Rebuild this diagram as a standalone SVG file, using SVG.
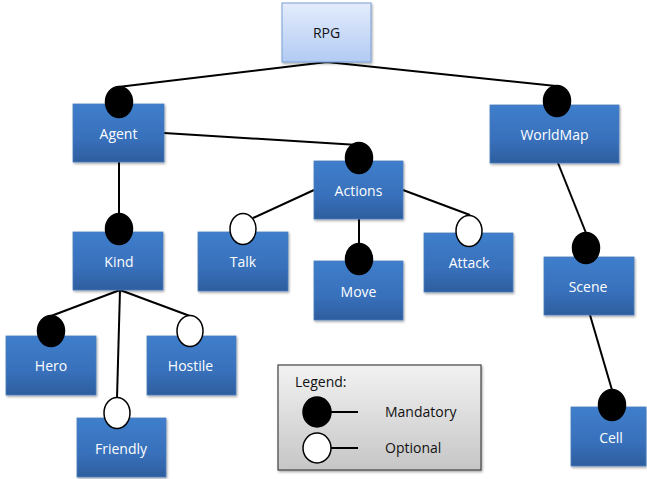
<svg xmlns="http://www.w3.org/2000/svg" width="647" height="479" viewBox="0 0 647 479">
<defs>
<linearGradient id="blue" x1="0" y1="0" x2="0" y2="1">
<stop offset="0" stop-color="#3f7ecb"/>
<stop offset="0.6" stop-color="#3870bb"/>
<stop offset="1" stop-color="#2d5e9e"/>
</linearGradient>
<linearGradient id="light" x1="0" y1="0" x2="0" y2="1">
<stop offset="0" stop-color="#e3ecfc"/>
<stop offset="1" stop-color="#b2cbf3"/>
</linearGradient>
<linearGradient id="gray" x1="0" y1="0" x2="0" y2="1">
<stop offset="0" stop-color="#f2f2f2"/>
<stop offset="1" stop-color="#c6c6c6"/>
</linearGradient>
<filter id="sh" x="-10%" y="-10%" width="130%" height="130%">
<feDropShadow dx="1" dy="1.5" stdDeviation="1" flood-color="#000" flood-opacity="0.35"/>
</filter>
</defs>
<style>
.box{fill:url(#blue);stroke:#4a7ebf;stroke-width:0.8;filter:url(#sh)}
.root{fill:url(#light);stroke:#7a9fd6;stroke-width:1;filter:url(#sh)}
.lbl{font-family:"Open Sans","Liberation Sans",sans-serif;font-size:14px;fill:#fff;text-anchor:middle}
.dark{fill:#111}
.ln{stroke:#000;stroke-width:2;fill:none}
.m{fill:#000;stroke:#000;stroke-width:1.5}
.o{fill:#fff;stroke:#000;stroke-width:1.5}
.lg{font-family:"Open Sans","Liberation Sans",sans-serif;font-size:14px;fill:#111}
</style>
<g id="connectors">
<polyline class="ln" points="118,87 327,62 556,86"/>
<line class="ln" x1="164" y1="133" x2="358" y2="145"/>
<line class="ln" x1="119" y1="162" x2="119" y2="214"/>
<line class="ln" x1="314" y1="190" x2="253" y2="218"/>
<line class="ln" x1="359" y1="219" x2="359" y2="244"/>
<line class="ln" x1="403" y1="190" x2="470" y2="215"/>
<line class="ln" x1="558" y1="163" x2="586" y2="233"/>
<line class="ln" x1="590" y1="315" x2="612" y2="390"/>
<line class="ln" x1="120" y1="290" x2="51" y2="316"/>
<line class="ln" x1="120" y1="290" x2="117" y2="398"/>
<line class="ln" x1="120" y1="290" x2="190" y2="316"/>
</g>
<g id="RPG">
<rect class="root" x="282" y="3" width="89" height="59"/>
<text class="lbl dark" x="326.5" y="38">RPG</text>
</g>
<g id="Agent">
<rect class="box" x="73" y="104" width="91" height="58"/>
<ellipse class="m" cx="119" cy="102" rx="13.5" ry="15.5"/>
<text class="lbl" x="118.5" y="139">Agent</text>
</g>
<g id="WorldMap">
<rect class="box" x="490" y="105" width="129" height="58"/>
<ellipse class="m" cx="557" cy="101" rx="13.5" ry="15.5"/>
<text class="lbl" x="554.5" y="140">WorldMap</text>
</g>
<g id="Actions">
<rect class="box" x="314" y="161" width="89" height="58"/>
<ellipse class="m" cx="359" cy="158" rx="13.5" ry="15.5"/>
<text class="lbl" x="358.5" y="196">Actions</text>
</g>
<g id="Kind">
<rect class="box" x="73" y="232" width="90" height="58"/>
<ellipse class="m" cx="119" cy="229" rx="13.5" ry="15.5"/>
<text class="lbl" x="119" y="267">Kind</text>
</g>
<g id="Talk">
<rect class="box" x="198" y="232" width="90" height="59"/>
<ellipse class="o" cx="243" cy="229" rx="13" ry="15.5"/>
<text class="lbl" x="243" y="267">Talk</text>
</g>
<g id="Move">
<rect class="box" x="314" y="261" width="89" height="59"/>
<ellipse class="m" cx="359" cy="259" rx="13.5" ry="15.5"/>
<text class="lbl" x="358.5" y="297">Move</text>
</g>
<g id="Attack">
<rect class="box" x="424" y="233" width="89" height="59"/>
<ellipse class="o" cx="469" cy="231" rx="13" ry="15.5"/>
<text class="lbl" x="469" y="268">Attack</text>
</g>
<g id="Scene">
<rect class="box" x="544" y="257" width="90" height="58"/>
<ellipse class="m" cx="586" cy="248" rx="13.5" ry="15.5"/>
<text class="lbl" x="588" y="292">Scene</text>
</g>
<g id="Cell">
<rect class="box" x="571" y="407" width="75" height="59"/>
<ellipse class="m" cx="612" cy="405" rx="13.5" ry="15.5"/>
<text class="lbl" x="611" y="443">Cell</text>
</g>
<g id="Hero">
<rect class="box" x="6" y="336" width="90" height="59"/>
<ellipse class="m" cx="51" cy="331" rx="13.5" ry="15.5"/>
<text class="lbl" x="51" y="371">Hero</text>
</g>
<g id="Hostile">
<rect class="box" x="147" y="336" width="89" height="59"/>
<ellipse class="o" cx="190" cy="331" rx="13" ry="15.5"/>
<text class="lbl" x="190.5" y="371">Hostile</text>
</g>
<g id="Friendly">
<rect class="box" x="77" y="418" width="89" height="59"/>
<ellipse class="o" cx="117" cy="413" rx="13" ry="15.5"/>
<text class="lbl" x="121" y="454">Friendly</text>
</g>
<g id="Legend">
<rect x="278" y="365" width="203" height="105" fill="url(#gray)" stroke="#444" stroke-width="1.2" filter="url(#sh)"/>
<text class="lg" x="295" y="387">Legend:</text>
<line class="ln" x1="317" y1="412" x2="358" y2="412"/>
<ellipse class="m" cx="317" cy="412" rx="14" ry="15"/>
<text class="lg" x="385" y="417">Mandatory</text>
<line class="ln" x1="317" y1="448" x2="358" y2="448"/>
<ellipse class="o" cx="317" cy="448" rx="14" ry="15"/>
<text class="lg" x="385" y="453">Optional</text>
</g>
</svg>
